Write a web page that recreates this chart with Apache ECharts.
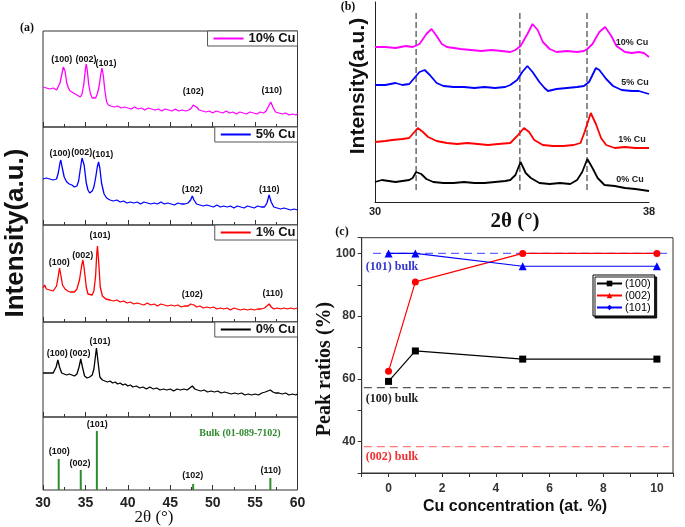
<!DOCTYPE html>
<html><head><meta charset="utf-8">
<script src="https://cdn.jsdelivr.net/npm/echarts@6/dist/echarts.min.js"></script>
<style>html,body{margin:0;padding:0;background:#fff}#c{width:685px;height:527px}</style>
</head><body><div id="c"></div>
<script>
// ---------- Panel (a): XRD patterns, 2θ 30-60 ----------
const xrd10 = [[30.0,40],[30.2,41],[30.4,39],[30.6,40],[30.8,38],[31.0,40],[31.2,39],[31.4,38],[31.6,37],[31.8,38],[32.0,44],[32.2,52],[32.4,60],[32.5,61],[32.6,56],[32.8,44],[33.0,39],[33.2,36],[33.4,35],[33.6,34],[33.8,33],[34.0,32],[34.2,31],[34.4,30],[34.6,33],[34.8,42],[35.0,58],[35.1,63],[35.2,58],[35.4,42],[35.6,33],[35.8,29],[36.0,27],[36.2,29],[36.4,33],[36.6,40],[36.8,52],[36.95,59],[37.1,52],[37.3,36],[37.5,25],[37.7,22],[38.0,21],[38.4,20],[38.8,21],[39.2,19],[39.6,20],[40.0,19],[40.4,18],[40.8,20],[41.2,18],[41.6,19],[42.0,17],[42.4,19],[42.8,18],[43.2,17],[43.6,18],[44.0,16],[44.4,18],[44.8,17],[45.2,16],[45.6,18],[46.0,16],[46.4,17],[46.8,16],[47.2,17],[47.5,19],[47.7,22],[47.9,24],[48.1,20],[48.4,17],[48.8,16],[49.2,15],[49.6,16],[50.0,14],[50.4,16],[50.8,15],[51.2,14],[51.6,16],[52.0,14],[52.4,15],[52.8,13],[53.2,15],[53.6,14],[54.0,13],[54.4,15],[54.8,14],[55.2,13],[55.6,15],[56.0,14],[56.3,16],[56.6,21],[56.85,25],[57.1,20],[57.4,15],[57.8,14],[58.2,13],[58.6,14],[59.0,12],[59.4,13],[59.8,12],[60.0,13]];
const xrd5 = [[30.0,46],[30.2,44],[30.4,47],[30.6,45],[30.8,46],[31.0,44],[31.2,45],[31.4,43],[31.6,46],[31.8,52],[32.0,62],[32.1,65],[32.25,58],[32.5,48],[32.8,43],[33.1,41],[33.4,40],[33.7,38],[34.0,39],[34.2,44],[34.4,56],[34.6,67],[34.7,68],[34.85,60],[35.1,42],[35.3,35],[35.5,32],[35.8,34],[36.0,38],[36.2,47],[36.4,58],[36.55,63],[36.7,57],[36.9,42],[37.2,31],[37.5,27],[37.9,25],[38.3,24],[38.7,25],[39.1,23],[39.5,24],[39.9,22],[40.3,23],[40.7,22],[41.1,23],[41.5,21],[41.9,23],[42.3,22],[42.7,21],[43.1,22],[43.5,21],[43.9,23],[44.3,21],[44.7,22],[45.1,21],[45.5,20],[45.9,22],[46.3,21],[46.7,21],[47.1,22],[47.4,25],[47.6,29],[47.8,25],[48.1,21],[48.5,20],[48.9,19],[49.3,20],[49.7,19],[50.1,18],[50.5,20],[50.9,18],[51.3,19],[51.7,18],[52.1,19],[52.5,17],[52.9,19],[53.3,18],[53.7,17],[54.1,19],[54.5,18],[54.9,17],[55.3,19],[55.7,18],[56.1,18],[56.4,22],[56.65,30],[56.9,23],[57.2,18],[57.6,17],[58.0,16],[58.4,17],[58.8,16],[59.2,15],[59.6,16],[60.0,15]];
const xrd1 = [[30.0,34],[30.2,37],[30.4,33],[30.6,34],[30.8,32],[31.0,33],[31.2,31],[31.4,33],[31.6,36],[31.8,46],[31.95,54],[32.1,47],[32.3,37],[32.6,33],[32.9,31],[33.2,30],[33.4,29],[33.7,30],[34.0,33],[34.3,42],[34.55,56],[34.7,62],[34.85,54],[35.1,35],[35.3,28],[35.5,26],[35.8,27],[36.0,31],[36.2,46],[36.35,70],[36.42,76],[36.55,62],[36.75,35],[37.0,26],[37.4,23],[37.9,22],[38.3,21],[38.7,22],[39.1,20],[39.5,21],[39.9,19],[40.3,20],[40.7,18],[41.1,19],[41.5,18],[41.9,17],[42.3,19],[42.7,17],[43.1,18],[43.5,16],[43.9,18],[44.3,17],[44.7,16],[45.1,17],[45.5,16],[45.9,17],[46.3,15],[46.7,16],[47.1,16],[47.4,18],[47.6,19],[47.8,17],[48.1,15],[48.5,16],[48.9,14],[49.3,15],[49.7,14],[50.1,15],[50.5,13],[50.9,14],[51.3,13],[51.7,14],[52.1,12],[52.5,14],[52.9,13],[53.3,12],[53.7,13],[54.1,12],[54.5,13],[54.9,12],[55.3,13],[55.7,13],[56.1,14],[56.4,16],[56.65,18],[56.9,15],[57.2,13],[57.6,14],[58.0,13],[58.4,14],[58.8,13],[59.2,14],[59.6,13],[60.0,14]];
const xrd0 = [[30.0,44],[30.2,45],[30.4,44],[30.6,43],[30.8,44],[31.0,43],[31.2,44],[31.4,45],[31.55,50],[31.75,57],[31.95,50],[32.2,44],[32.5,43],[32.8,42],[33.1,43],[33.4,42],[33.7,41],[34.0,43],[34.25,50],[34.45,58],[34.65,50],[34.9,41],[35.2,39],[35.5,40],[35.8,42],[36.0,48],[36.2,62],[36.3,69],[36.45,58],[36.7,40],[37.0,37],[37.3,36],[37.6,35],[37.9,36],[38.2,34],[38.5,35],[38.8,33],[39.1,34],[39.4,32],[39.7,33],[40.0,31],[40.3,32],[40.6,30],[41.0,31],[41.4,29],[41.8,30],[42.2,28],[42.6,30],[43.0,28],[43.4,29],[43.8,27],[44.2,28],[44.6,27],[45.0,28],[45.4,26],[45.8,28],[46.2,27],[46.6,28],[47.0,27],[47.3,29],[47.6,31],[47.9,28],[48.2,27],[48.6,26],[49.0,27],[49.4,25],[49.8,26],[50.2,25],[50.6,26],[51.0,24],[51.4,25],[51.8,24],[52.2,23],[52.6,24],[53.0,23],[53.4,24],[53.8,22],[54.2,23],[54.6,22],[55.0,23],[55.4,22],[55.8,24],[56.2,25],[56.5,26],[56.8,27],[57.1,25],[57.4,24],[57.8,24],[58.2,23],[58.6,24],[59.0,22],[59.4,23],[59.8,22],[60.0,23]];
const bulkPeaks = [31.85, 34.45, 36.35, 47.7, 56.8];
const bulkIntensity = [31, 20, 59, 6, 12];
const hklLabels = ['(100)','(002)','(101)','(102)','(110)'];
const sampleNames = ['10% Cu','5% Cu','1% Cu','0% Cu'];
const sampleColors = ['#ff00ff','#0000ff','#ff0000','#000000'];

// ---------- Panel (b): zoom 30-38 ----------
const zoom10 = [[30.0,155],[30.3,155],[30.6,154],[30.9,156],[31.1,155],[31.3,158],[31.5,168],[31.65,173],[31.8,166],[31.95,158],[32.1,155],[32.3,154],[32.5,153],[32.8,152],[33.1,151],[33.4,152],[33.7,151],[33.95,150],[34.1,152],[34.25,156],[34.45,168],[34.6,178],[34.75,172],[34.9,160],[35.1,153],[35.3,150],[35.6,151],[35.9,150],[36.1,151],[36.2,153],[36.35,158],[36.55,170],[36.72,175],[36.9,166],[37.05,156],[37.3,150],[37.5,149],[37.7,150],[37.85,149],[38.0,145]];
const zoom5 = [[30.0,117],[30.3,117],[30.6,119],[30.8,117],[31.0,118],[31.15,124],[31.3,130],[31.45,132],[31.6,127],[31.8,119],[32.0,116],[32.3,115],[32.6,115],[32.9,114],[33.2,115],[33.5,114],[33.8,115],[33.95,117],[34.15,122],[34.3,130],[34.45,136],[34.6,130],[34.8,120],[34.95,114],[35.05,111],[35.3,113],[35.6,114],[35.9,115],[36.1,116],[36.25,120],[36.45,134],[36.55,132],[36.75,123],[36.95,116],[37.2,112],[37.5,111],[37.7,111],[38.0,108]];
const zoom1 = [[30.0,60],[30.3,61],[30.5,62],[30.8,63],[31.0,64],[31.15,70],[31.25,74],[31.4,70],[31.55,65],[31.8,61],[32.1,59],[32.4,58],[32.7,59],[33.0,58],[33.3,57],[33.6,58],[33.95,59],[34.15,66],[34.35,74],[34.5,70],[34.65,62],[34.9,57],[35.2,56],[35.5,56],[35.8,57],[36.0,59],[36.12,70],[36.3,89],[36.45,78],[36.6,64],[36.75,57],[37.0,54],[37.3,55],[37.6,54],[38.0,54]];
const zoom0 = [[30.0,20],[30.2,22],[30.4,21],[30.6,20],[30.8,21],[31.0,22],[31.1,24],[31.2,30],[31.35,28],[31.5,23],[31.7,20],[32.0,19],[32.3,19],[32.6,20],[32.9,19],[33.2,19],[33.5,20],[33.8,21],[33.95,22],[34.1,27],[34.25,40],[34.4,29],[34.55,24],[34.8,19],[35.1,18],[35.4,19],[35.7,18],[35.9,22],[36.05,30],[36.2,43],[36.35,34],[36.5,24],[36.7,17],[37.0,16],[37.3,14],[37.6,13],[38.0,11]];
const refPeaks = [31.2, 34.23, 36.19];

// ---------- Panel (c): peak ratios ----------
const cuConc = [0, 1, 5, 10];
const ratio100 = [59.2, 68.9, 66.3, 66.3];
const ratio002 = [62.4, 90.9, 100, 100];
const ratio101 = [100, 100, 95.9, 95.9];
const bulkRatioNames = ['(101) bulk','(100) bulk','(002) bulk'];
const bulkRatios = [100, 57.2, 38.4];

const SANS = 'Liberation Sans', SERIF = 'Liberation Serif';
const chart = echarts.init(document.getElementById('c'));

const panelsA = [{top:31,h:96},{top:127,h:98},{top:225,h:97},{top:322,h:95},{top:417,h:73}];
const grids = [], xAxes = [], yAxes = [], series = [], legends = [], graphics = [];

panelsA.forEach((p, i) => {
  grids.push({left:43, width:254.5, top:p.top, height:p.h, show:true, borderColor:'#333', borderWidth:1, backgroundColor:'transparent'});
  xAxes.push({gridIndex:i, type:'value', min:30, max:60, interval:5,
    axisLine:{show:false},
    axisTick:{show:true, inside:true, length:5, lineStyle:{color:'#333'}},
    minorTick:{show:true, splitNumber:2, length:3, lineStyle:{color:'#333'}},
    splitLine:{show:false}, minorSplitLine:{show:false},
    axisLabel:{show:i===4, margin:6, fontFamily:SANS, fontWeight:'bold', fontSize:14, color:'#222'}});
  yAxes.push({gridIndex:i, type:'value', min:0, max:p.h, show:false, splitLine:{show:false}});
});
[xrd10, xrd5, xrd1, xrd0].forEach((d, i) => {
  series.push({name:sampleNames[i], type:'line', xAxisIndex:i, yAxisIndex:i, data:d, symbol:'none',
    lineStyle:{color:sampleColors[i], width:1.3}, itemStyle:{color:sampleColors[i]}, animation:false});
  legends.push({data:[sampleNames[i]], right:387.5, top:panelsA[i].top, itemWidth:30, itemHeight:12, itemGap:0,
    padding:[1,2,1,5], borderColor:'#555', borderWidth:1, backgroundColor:'#fff',
    lineStyle:{width:2}, itemStyle:{opacity:0}, selectedMode:false,
    textStyle:{fontFamily:SANS, fontWeight:'bold', fontSize:13, color:'#111'}});
});
series.push({type:'bar', name:'bulk', xAxisIndex:4, yAxisIndex:4, barWidth:2,
  data:bulkPeaks.map((x, i) => [x, bulkIntensity[i]]), itemStyle:{color:'#2e8b2e'}, animation:false});

// panel (b)
grids.push({left:375, width:274, top:2, height:200});
xAxes.push({gridIndex:5, type:'value', min:30, max:38, interval:8,
  axisLine:{show:true, lineStyle:{color:'#222', width:1}}, axisTick:{show:false}, splitLine:{show:false},
  axisLabel:{margin:4, fontFamily:SANS, fontWeight:'bold', fontSize:11, color:'#222'}});
yAxes.push({gridIndex:5, type:'value', min:0, max:200,
  axisLine:{show:true, onZero:false, lineStyle:{color:'#222', width:1}}, axisTick:{show:false}, axisLabel:{show:false}, splitLine:{show:false}});
refPeaks.forEach(x => {
  series.push({type:'line', name:'ref', xAxisIndex:5, yAxisIndex:5, data:[[x,12],[x,192]], symbol:'none', silent:true,
    lineStyle:{color:'#444', width:1.2, type:[6,3]}, animation:false});
});
[zoom10, zoom5, zoom1, zoom0].forEach((d, i) => {
  series.push({name:'b' + sampleNames[i], type:'line', xAxisIndex:5, yAxisIndex:5, data:d, symbol:'none',
    lineStyle:{color:sampleColors[i], width:1.8}, animation:false});
});

// panel (c)
grids.push({left:361.7, right:12, top:237.7, bottom:54, show:true, borderColor:'#333', borderWidth:1});
xAxes.push({gridIndex:6, type:'value', min:-1, max:10.6, interval:1,
  axisLine:{show:true, onZero:false, lineStyle:{color:'#333'}}, axisTick:{show:true, length:4, lineStyle:{color:'#333'}},
  splitLine:{show:false},
  axisLabel:{margin:10, fontFamily:SANS, fontWeight:'bold', fontSize:12, color:'#333',
    formatter:v => (v >= 0 && v <= 10 && Math.abs(v % 2) < 1e-6) ? String(v) : ''}});
yAxes.push({gridIndex:6, type:'value', min:30, max:105, interval:10,
  axisLine:{show:true, onZero:false, lineStyle:{color:'#333'}}, axisTick:{show:true, length:4, lineStyle:{color:'#333'}},
  splitLine:{show:false},
  axisLabel:{margin:6, fontFamily:SANS, fontWeight:'bold', fontSize:12, color:'#333',
    formatter:v => ([40,60,80,100].indexOf(v) >= 0 ? String(v) : '')}});
const bulkColors = ['#6464ff','#555555','#ff7a7a'];
const bulkExtent = [[-0.58,10.5],[-0.92,10.5],[-0.92,10.45]];
bulkRatios.forEach((v, i) => {
  series.push({type:'line', name:bulkRatioNames[i], xAxisIndex:6, yAxisIndex:6, symbol:'none', silent:true, z:1,
    data:[[bulkExtent[i][0], v],[bulkExtent[i][1], v]], lineStyle:{color:bulkColors[i], width:1.2, type:[8,5]}, animation:false});
});
// legend-only entries (the legend of the original uses square / triangle / diamond markers)
const legendSymbols = [['(100)','#000000','rect'],['(002)','#ff0000','triangle'],['(101)','#0000ff','diamond']];
legendSymbols.forEach(([n, c, sym]) => {
  series.push({name:n, type:'line', xAxisIndex:6, yAxisIndex:6, data:[], symbol:sym,
    lineStyle:{color:c, width:1.2}, itemStyle:{color:c}, animation:false});
});
const ratioSeries = [['(100) pts', ratio100, '#000000', 'rect', 7], ['(002) pts', ratio002, '#ff0000', 'circle', 7], ['(101) pts', ratio101, '#0000ff', 'triangle', 8]];
ratioSeries.forEach(([n, d, c, sym, sz]) => {
  series.push({name:n, type:'line', xAxisIndex:6, yAxisIndex:6, z:3, data:cuConc.map((x, k) => [x, d[k]]),
    symbol:sym, symbolSize:sz, showAllSymbol:true, lineStyle:{color:c, width:1.2}, itemStyle:{color:c}, animation:false});
});
legends.push({data:['(100)','(002)','(101)'],
  orient:'vertical', left:593, top:275, itemWidth:25, itemHeight:7, itemGap:1, padding:[3,4,3,3],
  borderColor:'#000', borderWidth:1, backgroundColor:'#fff', selectedMode:false,
  shadowColor:'rgba(0,0,0,0.9)', shadowBlur:0, shadowOffsetX:2, shadowOffsetY:2,
  textStyle:{fontFamily:SANS, fontSize:11, color:'#000', lineHeight:11, padding:[0,0,0,-2]}});

// ---------- text decorations ----------
function txt(x, y, text, font, fill, rot) {
  graphics.push({type:'text', x:x, y:y, rotation:rot || 0, silent:true, z:100,
    style:{text:text, font:font, fill:fill, align:'center', verticalAlign:'middle'}});
}
const peakLblFont = 'bold 9px "' + SANS + '"';
const peakLblPos = [
  [[61.7,59.3],[86,59.3],[106,63.3],[193.3,91.7],[271.7,91]],
  [[60,154],[81.7,152.3],[102.7,154.3],[192.3,189.3],[269.3,190]],
  [[59.3,262.3],[82.7,256],[100,235.7],[192.3,295],[272.7,293.3]],
  [[57.3,353.3],[80,353.3],[100,341.7]],
  [[59.3,451.7],[80,464],[97.3,425],[192.7,476],[270.7,471]]
];
peakLblPos.forEach(arr => arr.forEach((p, k) => txt(p[0], p[1], hklLabels[k], peakLblFont, '#111')));
txt(240, 433, 'Bulk (01-089-7102)', 'bold 10px "' + SERIF + '"', '#2e8b2e');
txt(27, 28, '(a)', 'bold 12px "' + SERIF + '"', '#111');
txt(348, 7, '(b)', 'bold 12px "' + SERIF + '"', '#111');
txt(342, 232, '(c)', 'bold 12px "' + SERIF + '"', '#111');
txt(154, 518, '2θ (°)', '17px "' + SERIF + '"', '#111');
txt(16, 233, 'Intensity(a.u.)', 'bold 26px "' + SANS + '"', '#111', Math.PI / 2);
txt(358, 86, 'Intensity(a.u.)', 'bold 21px "' + SANS + '"', '#111', Math.PI / 2);
txt(515, 222, '2θ (°)', 'bold 21px "' + SERIF + '"', '#111');
[[632,43],[635,83],[632,140],[630,180]].forEach((p, i) => txt(p[0], p[1], sampleNames[i], 'bold 9px "' + SANS + '"', '#222'));
txt(325, 369, 'Peak ratios (%)', 'bold 20px "' + SERIF + '"', '#111', Math.PI / 2);
txt(515, 507, 'Cu concentration (at. %)', 'bold 16px "' + SANS + '"', '#111');
const bulkLblPos = [[392,267],[392,399],[392,457]];
const bulkLblColors = ['#3535d0','#222222','#ee3030'];
bulkLblPos.forEach((p, i) => txt(p[0], p[1], bulkRatioNames[i], 'bold 12px "' + SERIF + '"', bulkLblColors[i]));

chart.setOption({animation:false, backgroundColor:'#fff', grid:grids, xAxis:xAxes, yAxis:yAxes, series:series, legend:legends, graphic:graphics});
</script></body></html>
